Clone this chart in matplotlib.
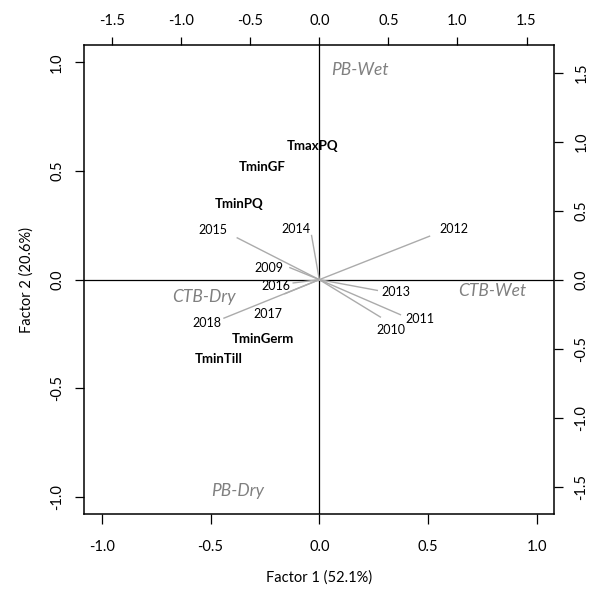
import matplotlib
matplotlib.use("Agg")
import matplotlib.pyplot as plt

plt.rcParams['font.family'] = ['Lato', 'DejaVu Sans']
plt.rcParams['axes.unicode_minus'] = False

# Year loadings (drawn on the top/right scale)
years = ["2009", "2010", "2011", "2012", "2013", "2014", "2015", "2016", "2017", "2018"]
load_x = [-0.213, 0.442, 0.587, 0.798, 0.420, -0.056, -0.594, -0.189, -0.249, -0.690]
load_y = [0.087, -0.271, -0.254, 0.315, -0.078, 0.320, 0.303, -0.024, -0.102, -0.279]
# Year label positions (bottom/left scale)
year_lab_x = [-0.232, 0.331, 0.461, 0.617, 0.354, -0.109, -0.490, -0.200, -0.235, -0.517]
year_lab_y = [0.054, -0.234, -0.180, 0.235, -0.057, 0.235, 0.228, -0.031, -0.158, -0.200]

# Variable scores (bottom/left scale)
variables = ["TmaxPQ", "TminGF", "TminPQ", "TminGerm", "TminTill"]
score_x = [-0.033, -0.261, -0.368, -0.258, -0.464]
score_y = [0.615, 0.520, 0.346, -0.272, -0.363]

# Environment group labels
groups = ["PB-Wet", "PB-Dry", "CTB-Dry", "CTB-Wet"]
group_x = [0.186, -0.377, -0.530, 0.794]
group_y = [0.966, -0.974, -0.082, -0.051]

primary_ticks = [-1.0, -0.5, 0.0, 0.5, 1.0]
secondary_ticks = [-1.5, -1.0, -0.5, 0.0, 0.5, 1.0, 1.5]
xlabel = "Factor 1 (52.1%)"
ylabel = "Factor 2 (20.6%)"

LIM = 1.08
RATIO = 1.575

fig = plt.figure(figsize=(6.0, 5.92), dpi=100)
pos = [84.3 / 600, 1 - 514.3 / 592, (554.3 - 84.3) / 600, (514.3 - 45) / 592]
ax = fig.add_axes(pos)
ax.set_xlim(-LIM, LIM)
ax.set_ylim(-LIM, LIM)
for s in ax.spines.values():
    s.set_linewidth(1.1)
ax.axhline(0, color='black', lw=0.9, zorder=1)
ax.axvline(0, color='black', lw=0.9, zorder=1)

ax.set_xticks(primary_ticks)
ax.set_yticks(primary_ticks)
ax.set_xticklabels([f"{t:.1f}" for t in primary_ticks])
ax.set_yticklabels([f"{t:.1f}" for t in primary_ticks], rotation=90, va='center')
ax.tick_params(axis='x', direction='out', length=7.5, width=0.9, pad=11, labelsize=10.5)
ax.tick_params(axis='y', direction='out', length=6.5, width=0.9, pad=8, labelsize=10.5)

# secondary (loadings) axes overlay
ax2 = fig.add_axes(pos, frameon=False)
ax2.set_xlim(-LIM * RATIO, LIM * RATIO)
ax2.set_ylim(-LIM * RATIO, LIM * RATIO)
ax2.xaxis.tick_top()
ax2.yaxis.tick_right()
ax2.set_xticks(secondary_ticks)
ax2.set_yticks(secondary_ticks)
ax2.set_xticklabels([f"{t:.1f}" for t in secondary_ticks])
ax2.set_yticklabels([f"{t:.1f}" for t in secondary_ticks], rotation=90, va='center')
ax2.tick_params(axis='x', direction='out', length=6.0, width=0.9, pad=6, labelsize=10.5)
ax2.tick_params(axis='y', direction='out', length=6.5, width=0.9, pad=8, labelsize=10.5)

for lx, ly in zip(load_x, load_y):
    ax2.plot([0, lx], [0, ly], color='#ababab', lw=1.0, zorder=2)

for name, tx, ty in zip(years, year_lab_x, year_lab_y):
    ax.text(tx, ty, name, ha='center', va='center', fontsize=9, color='black', zorder=3)

for name, tx, ty in zip(variables, score_x, score_y):
    ax.text(tx, ty, name, ha='center', va='center', fontsize=9.5, fontweight='bold',
            color='black', zorder=3)

for name, tx, ty in zip(groups, group_x, group_y):
    ax.text(tx, ty, name, ha='center', va='center', fontsize=12.5, style='italic',
            color='#808080', zorder=3)

fig.text(319.5 / 600, 1 - 578 / 592, xlabel, ha='center', va='center', fontsize=10.5)
fig.text(27 / 600, 1 - 280 / 592, ylabel, ha='center', va='center', fontsize=10.5, rotation=90)

fig.savefig("out.png", dpi=100)
